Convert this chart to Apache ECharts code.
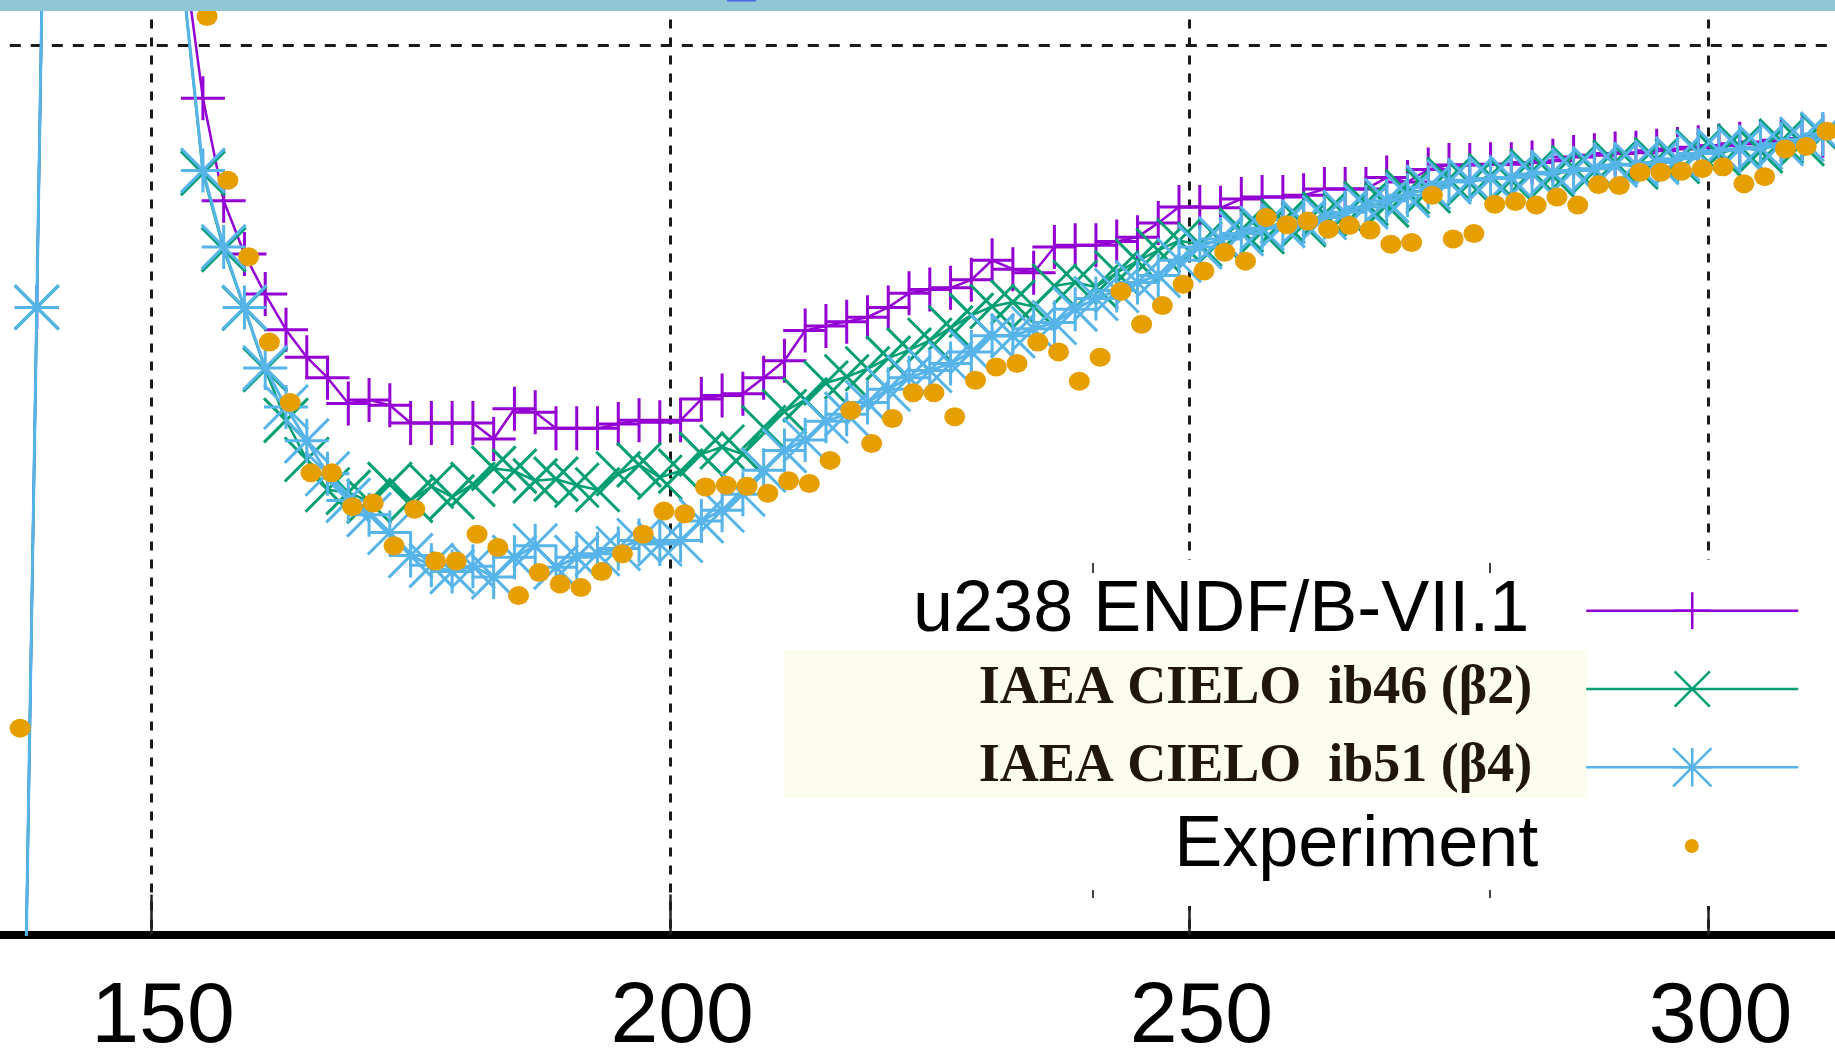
<!DOCTYPE html>
<html>
<head>
<meta charset="utf-8">
<title>u238 ENDF/B-VII.1 vs IAEA CIELO</title>
<script src="https://cdn.jsdelivr.net/npm/echarts@6/dist/echarts.min.js"></script>
<style>
  html, body { margin: 0; padding: 0; background: #fff; }
  #chart { width: 1835px; height: 1051px; }
</style>
</head>
<body>
<div id="chart"></div>
<script>
// model grid (every 2 units)
const modelEnergy = [
  137, 139, 141, 143, 145, 147, 149, 151, 153,
  155, 157, 159, 161, 163, 165, 167, 169, 171, 173,
  175, 177, 179, 181, 183, 185, 187, 189, 191, 193,
  195, 197, 199, 201, 203, 205, 207, 209, 211, 213,
  215, 217, 219, 221, 223, 225, 227, 229, 231, 233,
  235, 237, 239, 241, 243, 245, 247, 249, 251, 253,
  255, 257, 259, 261, 263, 265, 267, 269, 271, 273,
  275, 277, 279, 281, 283, 285, 287, 289, 291, 293,
  295, 297, 299, 301, 303, 305, 307, 309, 311
]

const endfB71 = [
  -70, 70.5, 211, 250, 260, 240, 190, 145, 111.6,
  94.0, 82.5, 76.5, 72.0, 68.0, 64.9, 62.6, 59.7, 60.1, 59.5,
  57.5, 57.5, 57.5, 57.5, 55.7, 59.1, 58.7, 56.9, 56.9, 56.9,
  57.4, 57.8, 57.6, 57.8, 60.2, 60.6, 60.8, 62.6, 64.5, 67.9,
  68.4, 68.9, 69.4, 70.5, 72.1, 72.5, 72.7, 73.6, 75.8, 74.8,
  74.4, 77.3, 77.5, 77.5, 77.9, 78.4, 80.0, 81.8, 81.8, 81.7,
  82.7, 82.9, 82.9, 83.1, 83.8, 83.8, 83.8, 85.1, 84.6, 86.0,
  86.5, 86.5, 86.6, 86.6, 86.8, 87.0, 87.4, 87.6, 87.8, 87.9,
  88.1, 88.3, 88.5, 88.7, 88.9, 89.1, 89.3, 89.5, 89.8
]

const cieloIb46 = [
  -70, 70.5, 211, 250, 260, 235, 185, 140, 108.0,
  85.6, 77.0, 70.4, 63.5, 57.8, 53.4, 50.0, 49.7, 48.7, 50.6,
  48.8, 50.4, 49.2, 50.6, 52.4, 52.1, 51.0, 51.2, 50.5, 50.0,
  51.8, 52.8, 51.4, 52.1, 54.0, 54.8, 54.0, 57.0, 58.8, 60.1,
  62.0, 62.7, 63.6, 64.8, 65.7, 66.8, 68.2, 69.6, 70.6, 71.1,
  70.6, 72.9, 73.3, 72.8, 74.4, 75.7, 76.9, 78.0, 77.6, 78.0,
  79.2, 79.0, 80.2, 79.8, 81.0, 80.9, 82.2, 82.0, 83.5, 83.6,
  84.9, 84.5, 85.3, 84.8, 85.8, 85.3, 86.2, 85.8, 86.8, 86.3,
  87.1, 86.9, 88.0, 87.7, 88.6, 88.1, 89.2, 88.9, 89.8
]

const cieloIb51 = [
  -70, 70.5, 211, 250, 260, 235, 185, 140, 108.2,
  85.9, 77.3, 70.5, 63.7, 59.3, 55.5, 51.8, 48.8, 47.2, 45.2,
  42.6, 41.5, 40.8, 41.4, 40.2, 42.4, 43.7, 41.3, 42.4, 42.8,
  43.4, 44.3, 43.9, 44.3, 46.5, 47.7, 49.5, 52.2, 54.4, 55.6,
  57.7, 58.5, 59.8, 61.3, 62.6, 63.4, 64.2, 65.5, 67.3, 67.3,
  68.1, 68.8, 70.3, 71.5, 72.4, 73.3, 74.1, 75.8, 77.3, 78.2,
  78.8, 79.4, 79.7, 80.1, 80.6, 81.2, 81.8, 82.5, 83.1, 84.0,
  84.6, 84.8, 85.0, 85.1, 85.5, 85.7, 85.9, 86.1, 86.5, 86.6,
  86.8, 87.2, 87.8, 88.1, 88.3, 88.5, 88.9, 89.4, 90.0
]

const expEnergy = [
  137.4,
  155.4, 157.4, 159.4, 161.4, 163.4, 165.4, 167.4, 169.4, 171.4, 173.4,
  175.4, 177.4, 179.4, 181.4, 183.4, 185.4, 187.4, 189.4, 191.4, 193.4,
  195.4, 197.4, 199.4, 201.4, 203.4, 205.4, 207.4, 209.4, 211.4, 213.4,
  215.4, 217.4, 219.4, 221.4, 223.4, 225.4, 227.4, 229.4, 231.4, 233.4,
  235.4, 237.4, 239.4, 241.4, 243.4, 245.4, 247.4, 249.4, 251.4, 253.4,
  255.4, 257.4, 259.4, 261.4, 263.4, 265.4, 267.4, 269.4, 271.4, 273.4,
  275.4, 277.4, 279.4, 281.4, 283.4, 285.4, 287.4, 289.4, 291.4, 293.4,
  295.4, 297.4, 299.4, 301.4, 303.4, 305.4, 307.4, 309.4, 311.4
]

const expValue = [
  23.2,
  103.2, 84.8, 76.2, 66.6, 59.8, 51.9, 51.9, 48.1, 48.5, 43.7,
  47.8, 42.0, 42.0, 45.0, 43.5, 38.1, 40.7, 39.4, 39.0, 40.8,
  42.8, 45.0, 47.6, 47.3, 50.3, 50.5, 50.4, 49.6, 51.0, 50.7,
  53.3, 58.9, 55.2, 58.0, 60.9, 60.9, 58.2, 62.3, 63.8, 64.2,
  66.6, 65.5, 62.2, 64.9, 72.3, 68.6, 70.7, 73.1, 74.6, 76.7,
  75.7, 80.6, 79.8, 80.2, 79.3, 79.7, 79.2, 77.6, 77.8, 83.1,
  78.2, 78.8, 82.1, 82.4, 82.0, 82.9, 82.0, 84.3, 84.2, 85.7,
  85.7, 85.8, 86.1, 86.3, 84.4, 85.2, 88.3, 88.6, 90.3
]

const xTicks = [100, 350, 50]   // min, max, interval
const yTicks = [0, 200, 100]

const names = ['u238 ENDF/B-VII.1', 'IAEA CIELO  ib46 (β2)', 'IAEA CIELO  ib51 (β4)', 'Experiment']
const colors = ['#9400d3', '#009e73', '#56b4e9', '#e69f00']

const plusSymbol = 'path://M0,-10L0,10M-10,0L10,0'
const crossSymbol = 'path://M-10,-10L10,10M-10,10L10,-10'
const starSymbol = 'path://M0,-10L0,10M-10,0L10,0M-10,-10L10,10M-10,10L10,-10'

function pairs(xs, ys) {
  return xs.map((x, i) => [x, ys[i]])
}

function modelSeries(idx, values, symbol, lineWidth) {
  return {
    name: names[idx],
    type: 'line',
    data: pairs(modelEnergy, values),
    symbol: symbol,
    symbolSize: 44,
    lineStyle: { color: colors[idx], width: lineWidth },
    itemStyle: { color: 'rgba(0,0,0,0)', borderColor: colors[idx], borderWidth: 3 },
    emphasis: { disabled: true },
    z: 2 + idx
  }
}

function legendFor(idx, right, top, itemHeight, textStyle) {
  const item = { name: names[idx] }
  if (idx === 3) item.icon = 'circle'
  return {
    data: [item],
    align: 'right',
    right: right,
    top: top,
    padding: 0,
    itemWidth: 212,
    itemHeight: itemHeight,
    selectedMode: false,
    textStyle: textStyle,
    itemStyle: idx === 3
      ? { color: colors[idx], borderWidth: 0 }
      : { color: 'rgba(0,0,0,0)', borderColor: colors[idx], borderWidth: 2.5 },
    lineStyle: { color: colors[idx], width: 2.5 }
  }
}

const sansLegend = { fontFamily: 'Liberation Sans', fontSize: 72, color: '#000', lineHeight: 80 }
const serifLegend = { fontFamily: 'Liberation Serif', fontWeight: 'bold', fontSize: 54, color: '#21160c', lineHeight: 60 }

const chart = echarts.init(document.getElementById('chart'))

chart.setOption({
  animation: false,
  backgroundColor: '#fff',
  grid: {
    left: -368.2, right: -392.8, top: -844.5, bottom: 116.5,
    containLabel: false, outerBoundsMode: 'none'
  },
  xAxis: {
    type: 'value',
    min: xTicks[0],
    max: xTicks[1],
    interval: xTicks[2],
    axisLine: { show: true, lineStyle: { color: '#000', width: 8 } },
    axisTick: { show: true, inside: true, length: 40, lineStyle: { color: '#222', width: 2.5 } },
    axisLabel: {
      fontFamily: 'Liberation Sans', fontSize: 86, lineHeight: 86, color: '#000',
      margin: 41, padding: [0, 0, 0, 24]
    },
    splitLine: { show: true, lineStyle: { color: '#1a1a1a', width: 3, type: [9, 9] } }
  },
  yAxis: {
    type: 'value',
    min: yTicks[0],
    max: yTicks[1],
    interval: yTicks[2],
    axisLine: { show: false },
    axisTick: { show: false },
    axisLabel: { show: false },
    splitLine: { show: true, lineStyle: { color: '#1a1a1a', width: 3, type: [11, 10] } }
  },
  legend: [
    legendFor(0, 35.5, 570.7, 46, Object.assign({ padding: [0, 52, 0, 0] }, sansLegend)),
    legendFor(1, 35.5, 654, 44, Object.assign({ padding: [10, 49, 0, 0] }, serifLegend)),
    legendFor(2, 35.5, 728.3, 48, Object.assign({ padding: [0, 49, 18, 0] }, serifLegend)),
    // the circle icon only counts its own extent, so shift this key to line up
    legendFor(3, 136.2, 806, 14, Object.assign({ padding: [0, 42.5, 0, 0] }, sansLegend))
  ],
  graphic: [
    // legend panel hides the grid lines behind the key
    { type: 'rect', z: 1, shape: { x: 1000, y: 560, width: 835, height: 346 }, style: { fill: '#fff' } },
    { type: 'rect', z: 1.5, shape: { x: 784, y: 650, width: 803, height: 148 }, style: { fill: '#fdfdee' } },
    { type: 'line', z: 3, shape: { x1: 1093, y1: 563, x2: 1093, y2: 573 }, style: { stroke: '#444', lineWidth: 2 } },
    { type: 'line', z: 3, shape: { x1: 1490, y1: 563, x2: 1490, y2: 573 }, style: { stroke: '#444', lineWidth: 2 } },
    { type: 'line', z: 3, shape: { x1: 1093, y1: 890, x2: 1093, y2: 898 }, style: { stroke: '#444', lineWidth: 2 } },
    { type: 'line', z: 3, shape: { x1: 1490, y1: 890, x2: 1490, y2: 898 }, style: { stroke: '#444', lineWidth: 2 } },
    // strip along the top edge
    { type: 'rect', z: 100, shape: { x: 0, y: 0, width: 1835, height: 11 }, style: { fill: '#8fc8d4' } },
    { type: 'rect', z: 101, shape: { x: 727, y: 0, width: 29, height: 1.5 }, style: { fill: '#4a66e6' } }
  ],
  series: [
    modelSeries(0, endfB71, plusSymbol, 2.5),
    modelSeries(1, cieloIb46, crossSymbol, 2.5),
    modelSeries(2, cieloIb51, starSymbol, 3),
    {
      name: names[3],
      type: 'scatter',
      data: pairs(expEnergy, expValue),
      symbol: 'circle',
      symbolSize: [21, 19],
      itemStyle: { color: colors[3], opacity: 1 },
      emphasis: { disabled: true },
      z: 6
    }
  ]
})
</script>
</body>
</html>
